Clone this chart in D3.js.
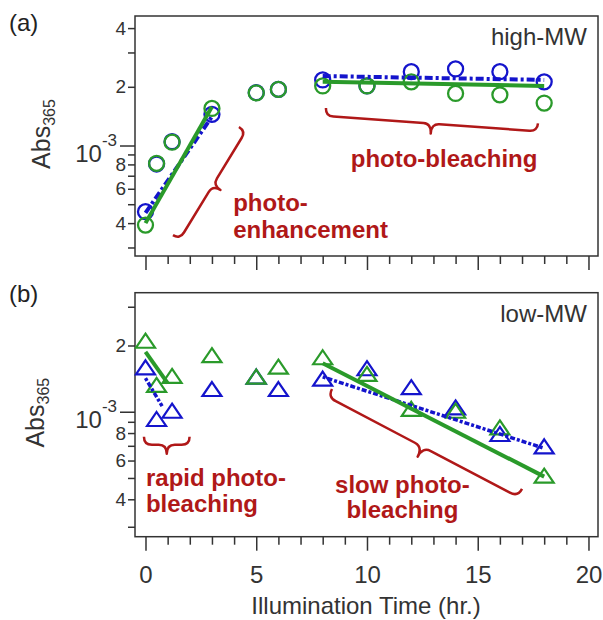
<!DOCTYPE html>
<html>
<head>
<meta charset="utf-8">
<script src="https://cdn.jsdelivr.net/npm/d3@7"></script>
<style>
  body { margin: 0; background: #fff; }
  svg text { font-family: "Liberation Sans", Arial, sans-serif; }
</style>
</head>
<body>
<div id="chart"></div>
<script>
// values (Abs365 vs illumination time, hr.)
var times = [0, 0.5, 1.2, 3, 5, 6, 8, 10, 12, 14, 16, 18];
var highBlue  = [4.58e-4, 8.04e-4, 1.046e-3, 1.445e-3, 1.866e-3, 1.94e-3, 2.17e-3, 2.02e-3, 2.39e-3, 2.47e-3, 2.39e-3, 2.12e-3];
var highGreen = [3.91e-4, 8.1e-4, 1.04e-3, 1.55e-3, 1.86e-3, 1.94e-3, 2.02e-3, 2.02e-3, 2.12e-3, 1.85e-3, 1.82e-3, 1.65e-3];
var lowBlue   = [1.575e-3, 9.17e-4, 1.0e-3, 1.255e-3, 1.43e-3, 1.255e-3, 1.40e-3, 1.56e-3, 1.28e-3, 1.036e-3, 7.84e-4, 6.89e-4];
var lowGreen  = [2.08e-3, 1.31e-3, 1.44e-3, 1.79e-3, 1.43e-3, 1.585e-3, 1.75e-3, 1.47e-3, 1.02e-3, 1.0e-3, 8.4e-4, 5.07e-4];

// fitted segments [[t, abs], [t, abs]]
var fitHighBlue  = [[[0, 4.51e-4], [3, 1.406e-3]], [[8, 2.27e-3], [18, 2.17e-3]]];
var fitHighGreen = [[[0, 4.0e-4], [3, 1.58e-3]], [[8, 2.12e-3], [18, 2.02e-3]]];
var fitLowBlue   = [[[0, 1.42e-3], [0.75, 1.06e-3]], [[8, 1.44e-3], [18, 6.82e-4]]];
var fitLowGreen  = [[[0, 1.87e-3], [1.0, 1.35e-3]], [[8, 1.66e-3], [18, 5.07e-4]]];

// ticks
var xTicks = d3.range(0, 21, 1);
var xLabelTicks = [0, 5, 10, 15, 20];
var yTicks = [3e-4, 4e-4, 5e-4, 6e-4, 7e-4, 8e-4, 9e-4, 1e-3, 2e-3, 3e-3, 4e-3];
var yLabelTicks = [4e-4, 6e-4, 8e-4, 2e-3, 4e-3];

// annotations (data coords)
var highBraces = [
  {p1: [4.22, 1.244e-3], p2: [1.24, 3.47e-4], w: 17, r: 8},
  {p1: [17.72, 1.30e-3], p2: [8.15, 1.557e-3], w: 18, r: 8}
];
var lowBraces = [
  {p1: [1.99, 7.7e-4], p2: [-0.07, 7.7e-4], w: 17, r: 8},
  {p1: [17.0, 4.46e-4], p2: [8.42, 1.268e-3], w: 20, r: 9}
];
var highNotes = [
  {t: 3.96, v: 4.61e-4, lines: ["photo-", "enhancement"], anchor: "start", lh: 27},
  {t: 13.48, v: 7.76e-4, lines: ["photo-bleaching"], anchor: "middle", lh: 25}
];
var lowNotes = [
  {t: 0.02, v: 4.58e-4, lines: ["rapid photo-", "bleaching"], anchor: "start", lh: 26},
  {t: 11.6, v: 4.26e-4, lines: ["slow photo-", "bleaching"], anchor: "middle", lh: 25}
];

var blue = "#1414cc", green = "#2a9a2a", red = "#b01818", ink = "#333";

var svgWidth = 603, svgHeight = 620;
var svg = d3.select("#chart").append("svg")
  .attr("width", svgWidth)
  .attr("height", svgHeight);

var x = d3.scaleLinear().domain([-0.474, 20.43]).range([135, 598]);

var panels = [
  {tag: "(a)", tagY: 31, name: "high-MW", nameV: 3.275e-3, top: 16, bottom: 256,
   yDomain: [2.713e-4, 4.614e-3], blueVals: highBlue, greenVals: highGreen,
   fitB: fitHighBlue, fitG: fitHighGreen, blueDash: "8,3,3,3", blueW: 4,
   marker: "circle", braces: highBraces, notes: highNotes, titleX: 50, labels: false},
  {tag: "(b)", tagY: 302, name: "low-MW", nameV: 2.566e-3, top: 292.7, bottom: 536.7,
   yDomain: [2.704e-4, 3.475e-3], blueVals: lowBlue, greenVals: lowGreen,
   fitB: fitLowBlue, fitG: fitLowGreen, blueDash: "3,2,5,2", blueW: 3.5,
   marker: "triangle", braces: lowBraces, notes: lowNotes, titleX: 44, labels: true}
];

function bracePath(a, b, w, r) {
  var dx = b[0] - a[0], dy = b[1] - a[1];
  var L = Math.hypot(dx, dy), ux = dx / L, uy = dy / L, nx = uy, ny = -ux;
  var m = [(a[0] + b[0]) / 2, (a[1] + b[1]) / 2];
  function pt(base, s, n) { return (base[0] + ux * s + nx * n) + "," + (base[1] + uy * s + ny * n); }
  return "M" + a[0] + "," + a[1] +
    "Q" + pt(a, 0, r) + " " + pt(a, r, r) +
    "L" + pt(m, -r, r) +
    "Q" + pt(m, 0, r) + " " + pt(m, 0, w) +
    "Q" + pt(m, 0, r) + " " + pt(m, r, r) +
    "L" + pt(b, -r, r) +
    "Q" + pt(b, 0, r) + " " + b[0] + "," + b[1];
}

panels.forEach(function(p) {
  var y = d3.scaleLog().domain(p.yDomain).range([p.bottom, p.top]);
  var g = svg.append("g");

  // panel tag
  svg.append("text").attr("x", 9).attr("y", p.tagY)
    .style("font-size", "24px").style("fill", "#222").text(p.tag);

  // y axis, only ticks inside this panel's range
  var ticksIn = yTicks.filter(function(d) { return d >= p.yDomain[0] && d <= p.yDomain[1]; });
  var yAxis = g.append("g")
    .attr("transform", "translate(" + x.range()[0] + ",0)")
    .call(d3.axisLeft(y).tickValues(ticksIn).tickSize(7).tickPadding(2)
      .tickFormat(function(d) {
        if (d === 1e-3) return "10";
        return yLabelTicks.indexOf(d) >= 0 ? String(Math.round(d / Math.pow(10, Math.floor(Math.log10(d) + 1e-9)))) : "";
      }));
  yAxis.select(".domain").remove();
  yAxis.selectAll(".tick line").attr("stroke", ink).attr("stroke-width", 1.5)
    .attr("x2", function(d) { return d === 1e-3 ? -15 : -7; });
  yAxis.selectAll(".tick text").style("font-size", "19px").style("fill", ink);
  yAxis.selectAll(".tick").filter(function(d) { return d === 1e-3; }).select("text")
    .attr("x", -18).style("font-size", "24px").attr("dy", "0.66em")
    .append("tspan").attr("dy", -16).style("font-size", "17px").text("-3");

  // x axis
  var xAxis = g.append("g")
    .attr("transform", "translate(0," + p.bottom + ")")
    .call(d3.axisBottom(x).tickValues(xTicks).tickSize(14).tickPadding(15)
      .tickFormat(function(d) { return p.labels && xLabelTicks.indexOf(d) >= 0 ? d : ""; }));
  xAxis.select(".domain").remove();
  xAxis.selectAll(".tick line").attr("stroke", ink).attr("stroke-width", 1.5)
    .attr("y2", function(d) { return d % 5 === 0 ? 14 : 8; });
  xAxis.selectAll(".tick text").style("font-size", "24px").style("fill", ink);

  // frame
  g.append("rect")
    .attr("x", x.range()[0]).attr("y", p.top)
    .attr("width", x.range()[1] - x.range()[0]).attr("height", p.bottom - p.top)
    .attr("fill", "none").attr("stroke", ink).attr("stroke-width", 1.5);

  // y title Abs365
  var yt = svg.append("text")
    .attr("transform", "translate(" + p.titleX + "," + ((p.top + p.bottom) / 2 - 2) + ") rotate(-90)")
    .attr("text-anchor", "middle").style("fill", ink);
  yt.append("tspan").style("font-size", "25px").text("Abs");
  yt.append("tspan").attr("dy", 5).style("font-size", "16px").text("365");

  // markers
  var tri = "M0,-8L9.5,6L-9.5,6Z";
  [[p.blueVals, blue], [p.greenVals, green]].forEach(function(s) {
    var pts = g.append("g").selectAll("path").data(s[0]).enter();
    if (p.marker === "circle") {
      pts.append("circle")
        .attr("cx", function(d, i) { return x(times[i]); })
        .attr("cy", function(d) { return y(d); })
        .attr("r", 7.5).attr("fill", "none")
        .attr("stroke", s[1]).attr("stroke-width", 2.3);
    } else {
      pts.append("path")
        .attr("d", tri)
        .attr("transform", function(d, i) { return "translate(" + x(times[i]) + "," + y(d) + ")"; })
        .attr("fill", "none").attr("stroke", s[1]).attr("stroke-width", 2.2)
        .attr("stroke-linejoin", "miter");
    }
  });

  // fit lines
  var line = d3.line().x(function(d) { return x(d[0]); }).y(function(d) { return y(d[1]); });
  g.append("g").selectAll("path").data(p.fitB).enter().append("path")
    .attr("d", line).attr("fill", "none").attr("stroke", blue)
    .attr("stroke-width", p.blueW).attr("stroke-dasharray", p.blueDash);
  g.append("g").selectAll("path").data(p.fitG).enter().append("path")
    .attr("d", line).attr("fill", "none").attr("stroke", green)
    .attr("stroke-width", 4);

  // braces
  g.append("g").selectAll("path").data(p.braces).enter().append("path")
    .attr("d", function(b) {
      return bracePath([x(b.p1[0]), y(b.p1[1])], [x(b.p2[0]), y(b.p2[1])], b.w, b.r);
    })
    .attr("fill", "none").attr("stroke", red).attr("stroke-width", 2.5)
    .attr("stroke-linejoin", "round");

  // notes
  p.notes.forEach(function(n) {
    var t = g.append("text")
      .attr("x", x(n.t)).attr("y", y(n.v))
      .attr("text-anchor", n.anchor)
      .style("font-size", "24px").style("font-weight", "bold").style("fill", red);
    n.lines.forEach(function(s, i) {
      t.append("tspan").attr("x", x(n.t)).attr("dy", i === 0 ? 0 : n.lh).text(s);
    });
  });

  // panel name
  g.append("text")
    .attr("x", x(19.93)).attr("y", y(p.nameV))
    .attr("text-anchor", "end").style("font-size", "24px").style("fill", ink)
    .text(p.name);
});

// x title
svg.append("text")
  .attr("x", 366).attr("y", 614)
  .attr("text-anchor", "middle").style("font-size", "24px").style("fill", ink)
  .text("Illumination Time (hr.)");
</script>
</body>
</html>
